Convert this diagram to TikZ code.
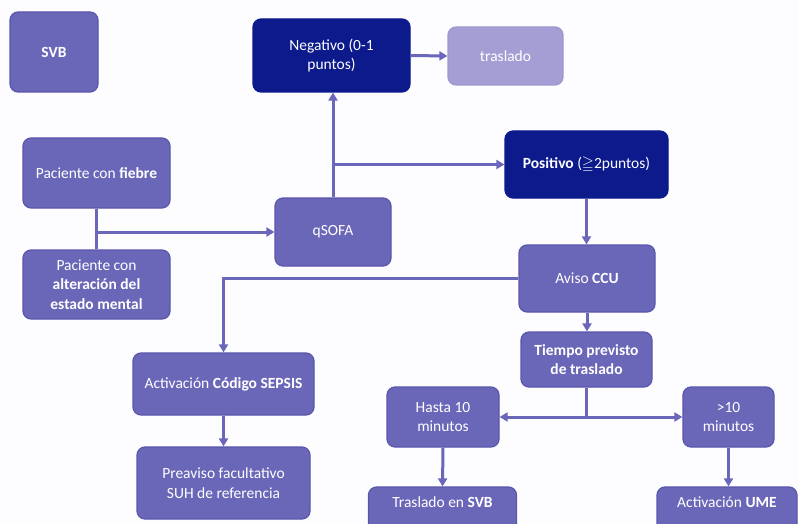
\documentclass[tikz,border=0pt]{standalone}
\usepackage{fontspec}
\usepackage{amssymb}
\setmainfont{Carlito}
\usetikzlibrary{arrows.meta}
\definecolor{boxfill}{HTML}{6B67B8}
\definecolor{boxline}{HTML}{5A56AC}
\definecolor{navy}{HTML}{0C1A8C}
\definecolor{lightp}{HTML}{A49ED4}
\definecolor{linec}{HTML}{6A66BA}
\definecolor{bgc}{HTML}{FDFCFF}
\tikzset{
  box/.style={draw=boxline, fill=boxfill, line width=1.2pt, rounded corners=8pt,
    text=white, align=center, font=\fontsize{15.5}{19.5}\selectfont, inner sep=2pt},
  darkbox/.style={box, fill=navy, draw=navy},
  lightbox/.style={box, fill=lightp, draw=lightp!90!boxline},
  conn/.style={draw=linec, line width=3pt},
  arr/.style={conn, -{Triangle[width=9pt,length=8pt]}}
}
\begin{document}
\begin{tikzpicture}[x=1pt,y=-1pt]
\fill[bgc] (0,0) rectangle (798,524);
\useasboundingbox (0,0) rectangle (798,524);
\node[box, minimum width=88pt, minimum height=80pt] (svb) at (54,52) {\textbf{SVB}};
\node[darkbox, minimum width=157pt, minimum height=73pt] (neg) at (331.5,55.5) {Negativo (0-1\\puntos)};
\node[lightbox, minimum width=115pt, minimum height=58pt] (tras) at (505.5,56) {traslado};
\node[box, minimum width=147pt, minimum height=70pt] (fiebre) at (96.5,173) {Paciente con \textbf{fiebre}};
\node[box, minimum width=147pt, minimum height=69pt] (alter) at (96.5,284.5) {Paciente con\\\textbf{alteración del}\\\textbf{estado mental}};
\node[box, minimum width=116pt, minimum height=68pt] (qsofa) at (333,232) {qSOFA};
\node[darkbox, minimum width=163pt, minimum height=67pt] (pos) at (586.5,164.5) {\textbf{Positivo} ($\geqq$2puntos)};
\node[box, minimum width=136pt, minimum height=67pt] (aviso) at (587,278.5) {Aviso \textbf{CCU}};
\node[box, minimum width=131pt, minimum height=55pt] (tiempo) at (586.5,359.5) {\textbf{Tiempo previsto}\\\textbf{de traslado}};
\node[box, minimum width=112pt, minimum height=60pt] (hasta) at (443,417) {Hasta 10\\minutos};
\node[box, minimum width=91pt, minimum height=60pt] (mas) at (728.5,417) {>10\\minutos};
\node[box, minimum width=181pt, minimum height=62pt] (sepsis) at (223.5,384) {Activación \textbf{Código SEPSIS}};
\node[box, minimum width=173pt, minimum height=72pt] (prea) at (223.5,483) {Preaviso facultativo\\SUH de referencia};
\node[box, minimum width=148pt, minimum height=48pt, text depth=18pt] (tsvb) at (442.5,511) {Traslado en \textbf{SVB}};
\node[box, minimum width=140pt, minimum height=48pt, text depth=18pt] (ume) at (727,511) {Activación \textbf{UME}};
% connectors
\draw[conn] (fiebre.south) -- (alter.north);
\draw[arr] (fiebre.south |- qsofa.west) -- (qsofa.west);
\draw[arr] (qsofa.north) -- (qsofa.north |- neg.south);
\draw[arr] (qsofa.north |- pos.west) -- (pos.west);
\draw[arr] (neg.east) -- (tras.west);
\draw[arr] (pos.south) -- (pos.south |- aviso.north);
\draw[arr] (aviso.west) -| (sepsis.north);
\draw[arr] (sepsis.south) -- (prea.north);
\draw[arr] (aviso.south) -- (aviso.south |- tiempo.north);
\coordinate (split) at (tiempo.south |- hasta.east);
\draw[conn] (tiempo.south) -- (split);
\draw[arr] (split) -- (hasta.east);
\draw[arr] (split) -- (mas.west);
\draw[arr] (hasta.south) -- (tsvb.north);
\draw[arr] (mas.south) -- (mas.south |- ume.north);
\end{tikzpicture}
\end{document}
